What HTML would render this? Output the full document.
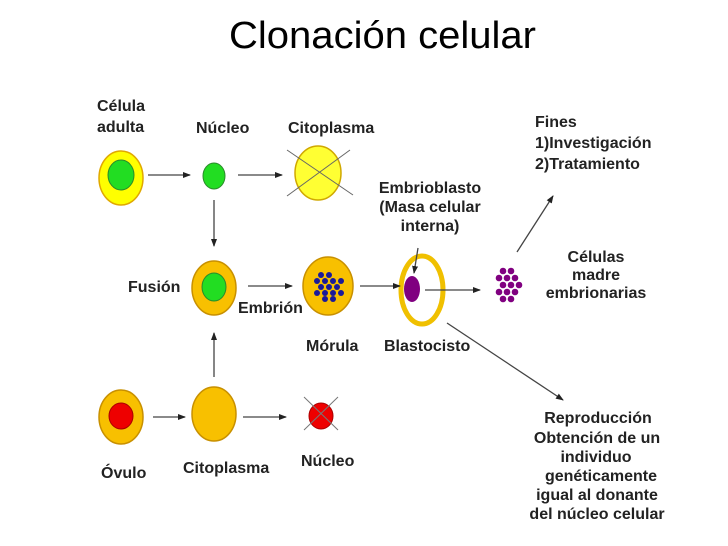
<!DOCTYPE html>
<html><head><meta charset="utf-8"><style>
html,body{margin:0;padding:0;background:#fff;width:728px;height:546px;overflow:hidden}
svg{display:block}
text{font-family:"Liberation Sans",sans-serif;font-weight:bold;font-size:16px;fill:#222}
</style></head><body>
<svg width="728" height="546" viewBox="0 0 728 546">
<defs><marker id="a" markerWidth="8" markerHeight="8" refX="7" refY="4" orient="auto" markerUnits="userSpaceOnUse"><path d="M0,1 L8,4 L0,7 z" fill="#222"/></marker></defs>
<text x="229" y="48" textLength="307" lengthAdjust="spacingAndGlyphs" style="font-weight:normal;font-size:38px;fill:#000">Clonación celular</text>
<!-- shapes -->
<ellipse cx="121" cy="178" rx="22" ry="27" fill="#ffff00" stroke="#e0a800" stroke-width="1.5"/>
<ellipse cx="121" cy="175" rx="13" ry="15" fill="#22dd22" stroke="#2a8a2a" stroke-width="1"/>
<ellipse cx="214" cy="176" rx="11" ry="13" fill="#22dd22" stroke="#2a8a2a" stroke-width="1"/>
<ellipse cx="318" cy="173" rx="23" ry="27" fill="#ffff33" stroke="#d0a800" stroke-width="1.5"/>
<g stroke="#666" stroke-width="1"><line x1="287" y1="150" x2="353" y2="195"/><line x1="287" y1="196" x2="350" y2="150"/></g>
<ellipse cx="214" cy="288" rx="22" ry="27" fill="#f8c000" stroke="#c89000" stroke-width="1.5"/>
<ellipse cx="214" cy="287" rx="12" ry="14" fill="#22dd22" stroke="#2a8a2a" stroke-width="1"/>
<ellipse cx="328" cy="286" rx="25" ry="29" fill="#f8c000" stroke="#c89000" stroke-width="1.5"/>
<g fill="#1a1a9a">
<circle cx="321" cy="275" r="3"/><circle cx="329" cy="275" r="3"/>
<circle cx="317" cy="281" r="3"/><circle cx="325" cy="281" r="3"/><circle cx="333" cy="281" r="3"/><circle cx="341" cy="281" r="3"/>
<circle cx="321" cy="287" r="3"/><circle cx="329" cy="287" r="3"/><circle cx="337" cy="287" r="3"/>
<circle cx="317" cy="293" r="3"/><circle cx="325" cy="293" r="3"/><circle cx="333" cy="293" r="3"/><circle cx="341" cy="293" r="3"/>
<circle cx="325" cy="299" r="3"/><circle cx="333" cy="299" r="3"/>
</g>
<ellipse cx="422" cy="290" rx="21" ry="34" fill="#fff" stroke="#f0c000" stroke-width="5"/>
<ellipse cx="412" cy="289" rx="8" ry="13" fill="#800080"/>
<g fill="#800080">
<circle cx="503" cy="271" r="3.3"/><circle cx="511" cy="271" r="3.3"/>
<circle cx="499" cy="278" r="3.3"/><circle cx="507" cy="278" r="3.3"/><circle cx="515" cy="278" r="3.3"/>
<circle cx="503" cy="285" r="3.3"/><circle cx="511" cy="285" r="3.3"/><circle cx="519" cy="285" r="3.3"/>
<circle cx="499" cy="292" r="3.3"/><circle cx="507" cy="292" r="3.3"/><circle cx="515" cy="292" r="3.3"/>
<circle cx="503" cy="299" r="3.3"/><circle cx="511" cy="299" r="3.3"/>
</g>
<ellipse cx="121" cy="417" rx="22" ry="27" fill="#f8c000" stroke="#c89000" stroke-width="1.5"/>
<ellipse cx="121" cy="416" rx="12" ry="13" fill="#ee0000" stroke="#a00" stroke-width="1"/>
<ellipse cx="214" cy="414" rx="22" ry="27" fill="#f8c000" stroke="#c89000" stroke-width="1.5"/>
<ellipse cx="321" cy="416" rx="12" ry="13" fill="#ee0000" stroke="#a00" stroke-width="1"/>
<g stroke="#777" stroke-width="1"><line x1="304" y1="397" x2="338" y2="430"/><line x1="304" y1="430" x2="338" y2="397"/></g>
<!-- arrows -->
<g stroke="#444" stroke-width="1.3" fill="none" marker-end="url(#a)">
<line x1="148" y1="175" x2="190" y2="175"/>
<line x1="238" y1="175" x2="282" y2="175"/>
<line x1="214" y1="200" x2="214" y2="246"/>
<line x1="248" y1="286" x2="292" y2="286"/>
<line x1="360" y1="286" x2="400" y2="286"/>
<line x1="418" y1="248" x2="414" y2="273"/>
<line x1="425" y1="290" x2="480" y2="290"/>
<line x1="517" y1="252" x2="553" y2="196"/>
<line x1="447" y1="323" x2="563" y2="400"/>
<line x1="153" y1="417" x2="185" y2="417"/>
<line x1="214" y1="377" x2="214" y2="333"/>
<line x1="243" y1="417" x2="286" y2="417"/>
</g>
<!-- labels -->
<text x="97" y="111">Célula</text>
<text x="97" y="132">adulta</text>
<text x="196" y="133">Núcleo</text>
<text x="288" y="133">Citoplasma</text>
<text x="128" y="292">Fusión</text>
<text x="238" y="313">Embrión</text>
<text x="306" y="351">Mórula</text>
<text x="384" y="351">Blastocisto</text>
<text x="430" y="193" text-anchor="middle">Embrioblasto</text>
<text x="430" y="212" text-anchor="middle">(Masa celular</text>
<text x="430" y="231" text-anchor="middle">interna)</text>
<text x="535" y="127">Fines</text>
<text x="535" y="148">1)Investigación</text>
<text x="535" y="169">2)Tratamiento</text>
<text x="596" y="262" text-anchor="middle">Células</text>
<text x="596" y="280" text-anchor="middle">madre</text>
<text x="596" y="298" text-anchor="middle">embrionarias</text>
<text x="101" y="478">Óvulo</text>
<text x="183" y="473">Citoplasma</text>
<text x="301" y="466">Núcleo</text>
<g text-anchor="middle">
<text x="598" y="423">Reproducción</text>
<text x="597" y="443">Obtención de un</text>
<text x="596" y="462">individuo</text>
<text x="601" y="481">genéticamente</text>
<text x="597" y="500">igual al donante</text>
<text x="597" y="519">del núcleo celular</text>
</g>
</svg>
</body></html>
